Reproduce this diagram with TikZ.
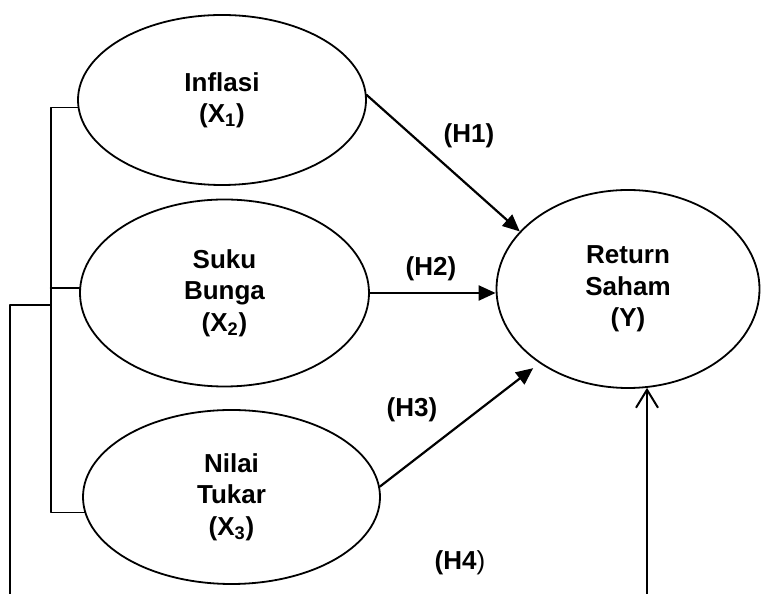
\documentclass[tikz,border=0pt]{standalone}
\usepackage{fontspec}
\setmainfont{Liberation Sans}
\usetikzlibrary{arrows.meta,shapes.geometric}
\tikzset{
    every picture/.style={line cap=round,line join=round},
    latent/.style={draw=black,ellipse,line width=0.9pt,inner sep=0pt,
      font=\fontsize{13pt}{15.7pt}\selectfont\bfseries,align=center},
    hyparrow/.style={-{Triangle[length=8.5pt,width=7.5pt]},draw=black,
      line width=1.1pt},
    backarrow/.style={-{Straight Barb[length=9pt,width=11pt]},draw=black,
      line width=1pt},
    bracketline/.style={draw=black,line width=0.9pt},
    hyplabel/.style={inner sep=1pt,font=\fontsize{13pt}{15.7pt}\selectfont\bfseries}
}
\begin{document}
\begin{tikzpicture}[x=0.5pt,y=0.5pt]
  \useasboundingbox (0,0) rectangle (761,594);
  \node[latent,minimum width=144pt,minimum height=85pt] (inflasi) at (222,494) {Inflasi\\(X\textsubscript{1})};
  \node[latent,minimum width=144.5pt,minimum height=93.5pt] (bunga) at (224.5,301) {Suku\\Bunga\\(X\textsubscript{2})};
  \node[latent,minimum width=148.5pt,minimum height=87pt] (tukar) at (231.5,97) {Nilai\\Tukar\\(X\textsubscript{3})};
  \node[latent,minimum width=131.5pt,minimum height=99pt] (saham) at (628,305) {Return\\Saham\\(Y)};
  \draw[hyparrow] (inflasi.2) -- (saham.152);
  \draw[hyparrow] (bunga.east) -- (bunga.east -| saham.west);
  \draw[hyparrow,shorten >=4pt] (tukar.4) -- (saham.220);
  \node[hyplabel] (h1) at (469,458) {(H1)};
  \node[hyplabel] (h2) at (431,325) {(H2)};
  \node[hyplabel] (h3) at (412,184) {(H3)};
  \node[hyplabel] (h4) at (460,31) {(H4\textmd{)}};
  % bracket on the left and the path back to Y
  \draw[bracketline] (inflasi.183) -- ++(-27,0) coordinate (spine) |- (tukar.186);
  \draw[bracketline] (bunga.178) -- (bunga.178 -| spine);
  \coordinate (outerTop) at (10,289);
  \coordinate (outerEnd) at (10,0);
  \draw[bracketline] (outerEnd) -- (outerTop) -- (outerTop -| spine);
  \coordinate (feedIn) at (647,0);
  \draw[backarrow] (feedIn) -- (feedIn |- saham.281);
\end{tikzpicture}
\end{document}
